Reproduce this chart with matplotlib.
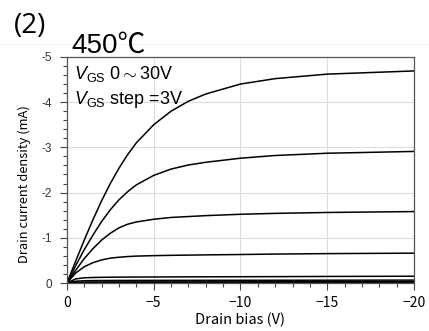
import numpy as np
import matplotlib.pyplot as plt
from matplotlib.lines import Line2D

plt.rcParams['font.family'] = ['Liberation Sans', 'DejaVu Sans']
plt.rcParams['mathtext.fontset'] = 'custom'
plt.rcParams['mathtext.rm'] = 'Liberation Sans'
plt.rcParams['mathtext.it'] = 'Liberation Sans:italic'

JP = ["Noto Sans CJK JP", "DejaVu Sans"]

# drain bias (V) where the curves were read
vd = [0, -0.5, -1, -1.5, -2, -2.5, -3, -3.5, -4, -5, -6, -7, -8, -10, -12, -15, -20]

# drain current density (mA), one list per gate bias (VGS 0 .. -30 V, step 3 V)
id_vgs0  = [0, 0, 0, 0, 0, 0, 0, 0, 0, 0, 0, 0, 0, 0, 0, 0, 0]
id_vgs3  = [0, -0.001, -0.002, -0.002, -0.002, -0.002, -0.002, -0.002, -0.002, -0.002, -0.002, -0.002, -0.002, -0.002, -0.002, -0.002, -0.002]
id_vgs6  = [0, -0.003, -0.004, -0.005, -0.005, -0.005, -0.005, -0.005, -0.005, -0.005, -0.005, -0.005, -0.005, -0.005, -0.005, -0.005, -0.005]
id_vgs9  = [0, -0.006, -0.008, -0.009, -0.01, -0.01, -0.01, -0.01, -0.01, -0.01, -0.01, -0.01, -0.01, -0.01, -0.01, -0.011, -0.012]
id_vgs12 = [0, -0.015, -0.02, -0.022, -0.023, -0.024, -0.024, -0.025, -0.025, -0.025, -0.025, -0.025, -0.026, -0.026, -0.027, -0.028, -0.03]
id_vgs15 = [0, -0.04, -0.05, -0.053, -0.055, -0.056, -0.057, -0.057, -0.058, -0.058, -0.059, -0.059, -0.06, -0.06, -0.061, -0.062, -0.064]
id_vgs18 = [0, -0.09, -0.115, -0.122, -0.126, -0.128, -0.13, -0.131, -0.132, -0.133, -0.135, -0.136, -0.137, -0.139, -0.141, -0.145, -0.15]
id_vgs21 = [0, -0.22, -0.36, -0.45, -0.51, -0.55, -0.57, -0.585, -0.595, -0.605, -0.612, -0.617, -0.622, -0.63, -0.64, -0.65, -0.66]
id_vgs24 = [0, -0.28, -0.54, -0.76, -0.95, -1.1, -1.22, -1.3, -1.35, -1.41, -1.45, -1.47, -1.49, -1.52, -1.54, -1.56, -1.58]
id_vgs27 = [0, -0.38, -0.74, -1.06, -1.36, -1.62, -1.84, -2.02, -2.17, -2.38, -2.52, -2.61, -2.67, -2.76, -2.82, -2.87, -2.91]
id_vgs30 = [0, -0.48, -0.95, -1.4, -1.82, -2.2, -2.54, -2.84, -3.1, -3.5, -3.8, -4.02, -4.18, -4.4, -4.52, -4.62, -4.69]

curves = [id_vgs0, id_vgs3, id_vgs6, id_vgs9, id_vgs12, id_vgs15,
          id_vgs18, id_vgs21, id_vgs24, id_vgs27, id_vgs30]

x_ticks = [0, -5, -10, -15, -20]
x_labels = ["0", "\u22125", "\u221210", "\u221215", "\u221220"]
y_ticks = [0, -1, -2, -3, -4, -5]
y_labels = ["0", "-1", "-2", "-3", "-4", "-5"]

fig = plt.figure(figsize=(4.29, 3.31), dpi=100)
ax = fig.add_axes([0.156, 0.145, 0.809, 0.683])

for cur in curves:
    ax.plot(vd, cur, color="black", linewidth=1.1)

ax.set_xlim(0, -20)
ax.set_ylim(0, -5)
ax.set_xticks(x_ticks)
ax.set_xticklabels(x_labels, family=JP, fontsize=10)
ax.set_yticks(y_ticks)
ax.set_yticklabels(y_labels, fontsize=8.5, color="#333333")
ax.set_xticks(np.arange(0, -21, -1), minor=True)
ax.set_yticks(np.arange(0, -5.01, -0.2), minor=True)
ax.tick_params(which="major", length=5, width=0.8, color="#444444", pad=4)
ax.tick_params(which="minor", length=3, width=0.8, color="#444444")
ax.tick_params(axis="y", pad=6)
ax.grid(True, which="major", color="#dddddd", linewidth=0.8)
ax.set_axisbelow(True)
for s in ax.spines.values():
    s.set_color("#555555")
    s.set_linewidth(0.9)

ax.set_xlabel("Drain bias (V)", family=JP, fontsize=10.5, labelpad=2)
fig.text(0.056, 0.443, "Drain current density (mA)", family=JP, fontsize=9.3,
         rotation=90, ha="center", va="center")

ax.text(0.02, 0.97, r"$V_{\rm GS}$ 0$\sim$30V", transform=ax.transAxes,
        fontsize=13, va="top", ha="left")
ax.text(0.02, 0.86, r"$V_{\rm GS}$ step =3V", transform=ax.transAxes,
        fontsize=13, va="top", ha="left")

fig.text(0.033, 0.9, "(2)", fontsize=20, ha="left", va="baseline",
         family=["Open Sans", "DejaVu Sans"])
fig.text(0.166, 0.84, "450\u2103", fontsize=20, ha="left", va="baseline",
         family=["Liberation Sans", "Noto Sans CJK JP"])
fig.add_artist(Line2D([0, 1], [0.868, 0.868], color="#f2f2f2", linewidth=0.8,
                      transform=fig.transFigure))

fig.savefig("out.png", dpi=100)
